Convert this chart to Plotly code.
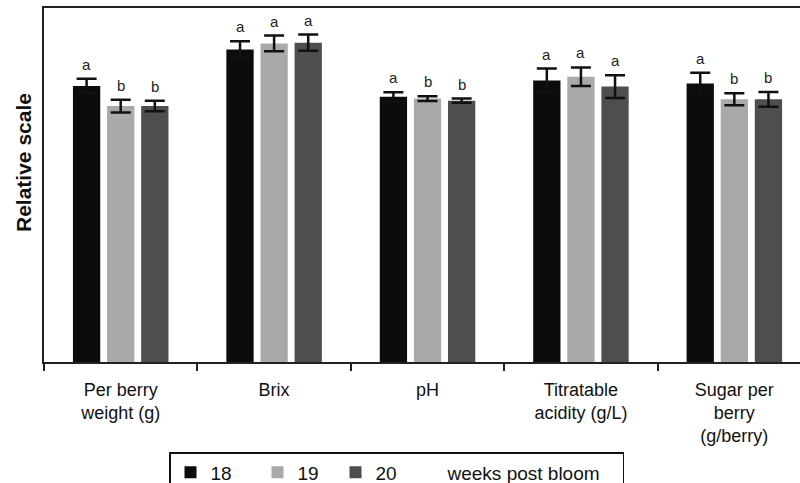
import plotly.graph_objects as go

categories = ["Per berry<br>weight (g)", "Brix", "pH", "Titratable<br>acidity (g/L)", "Sugar per<br>berry<br>(g/berry)"]
weeks = ["18", "19", "20"]
w18 = [78.0, 88.3, 74.9, 79.5, 78.7]
w19 = [72.3, 90.0, 74.4, 80.6, 74.2]
w20 = [72.3, 90.2, 73.8, 77.8, 74.2]
e18 = [2.0, 2.3, 1.3, 3.4, 3.0]
e19 = [1.8, 2.2, 0.7, 2.6, 1.7]
e20 = [1.5, 2.3, 0.6, 3.2, 2.1]
let18 = ["a", "a", "a", "a", "a"]
let19 = ["b", "a", "b", "a", "b"]
let20 = ["b", "a", "b", "a", "b"]

values = [w18, w19, w20]
errors = [e18, e19, e20]
letters = [let18, let19, let20]
colors = ["#0c0c0c", "#a9a9a9", "#4e4e4e"]
legend_widths = [42, 33, 27]

BARGAP = 0.333
FONT = "Liberation Sans, Arial, sans-serif"

fig = go.Figure()
for k in range(3):
    fig.add_trace(go.Bar(
        x=categories, y=values[k], name=weeks[k],
        marker=dict(color=colors[k], line=dict(width=0)),
        error_y=dict(type="data", array=errors[k], visible=True,
                     color="#111111", thickness=2.5, width=10),
        legendwidth=legend_widths[k],
    ))

# legend caption entry (no symbol)
fig.add_trace(go.Scatter(
    x=[categories[0]], y=[None], mode="markers", name="weeks post bloom",
    marker=dict(size=0.1, opacity=0, color="white"), hoverinfo="skip",
    legendwidth=170,
))

annotations = []
slot = (1 - BARGAP) / 3
for k in range(3):
    for i, cat in enumerate(categories):
        annotations.append(dict(
            x=i + (k - 1) * slot, y=values[k][i] + errors[k][i],
            xref="x", yref="y", text=letters[k][i], showarrow=False,
            yanchor="bottom", yshift=4,
            font=dict(family=FONT, size=15, color="#222222"),
        ))

plot_left, plot_w = 44, 756
annotations.append(dict(
    text="<b>Relative scale</b>", textangle=-90, showarrow=False,
    xref="paper", yref="paper", x=(23 - plot_left) / plot_w, y=(362 - 163) / 354,
    xanchor="center", yanchor="middle",
    font=dict(family=FONT, size=21, color="#111111"),
))

fig.update_layout(
    width=800, height=483,
    margin=dict(l=44, r=0, t=8, b=121, autoexpand=False),
    plot_bgcolor="white", paper_bgcolor="white",
    barmode="group", bargap=BARGAP, bargroupgap=0.2,
    showlegend=True,
    legend=dict(
        orientation="h", x=(169 - plot_left) / plot_w, xanchor="left",
        y=(362 - 452) / 354, yanchor="top",
        bordercolor="#111111", borderwidth=1.5,
        font=dict(family=FONT, size=19, color="#111111"),
        traceorder="normal",
    ),
    annotations=annotations,
    xaxis=dict(
        type="category", range=[-0.5, 4.428],
        showline=True, linecolor="#222222", linewidth=2,
        mirror=True,
        ticks="outside", tickson="boundaries", ticklen=7, tickwidth=1.5,
        tickcolor="#222222", ticklabelstandoff=10,
        tickfont=dict(family=FONT, size=18, color="#111111"),
        showgrid=False, zeroline=False,
    ),
    yaxis=dict(
        range=[0, 100], showline=True, linecolor="#222222", linewidth=2,
        showticklabels=False, ticks="", showgrid=False, zeroline=False,
    ),
)

fig.write_html("out.html")
